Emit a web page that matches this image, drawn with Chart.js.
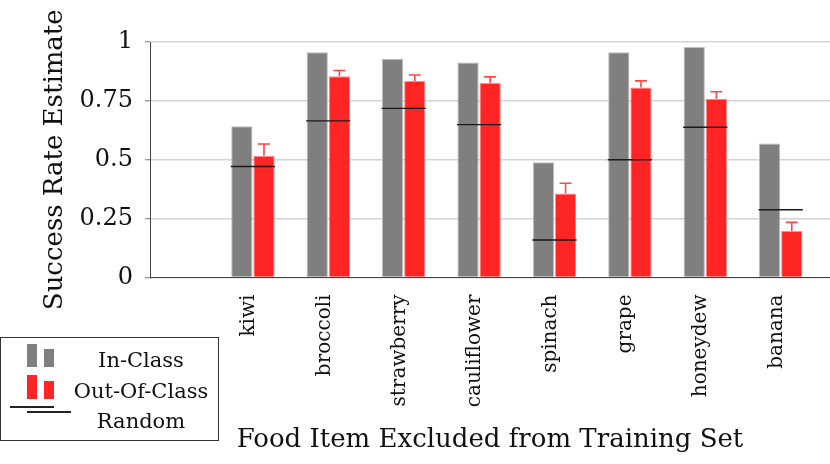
<!DOCTYPE html>
<html>
<head>
<meta charset="utf-8">
<script src="https://cdn.jsdelivr.net/npm/chart.js@4.4.0/dist/chart.umd.min.js"></script>
<style>
  html, body { margin: 0; padding: 0; background: #fff; }
  #wrap { position: relative; width: 830px; height: 464px; }
  #legend { position: absolute; left: 0; top: 337px; width: 217px; height: 102px; border: 1px solid #333; background: #fff;
            font-family: "DejaVu Serif"; font-size: 21px; color: #111; }
  #legend .ic { position: absolute; }
  #legend .tx { position: absolute; left: 60px; width: 160px; text-align: center; line-height: 24px; }
</style>
</head>
<body>
<div id="wrap">
  <canvas id="chart" width="830" height="464"></canvas>
  <div id="legend">
    <div class="ic" style="left:26px;top:6px;width:10px;height:23px;background:#7f7f7f"></div>
    <div class="ic" style="left:43px;top:11px;width:10px;height:18px;background:#7f7f7f"></div>
    <div class="tx" style="top:10px">In-Class</div>
    <div class="ic" style="left:26px;top:37px;width:10px;height:24px;background:#ff2525"></div>
    <div class="ic" style="left:43px;top:43px;width:10px;height:18px;background:#ff2525"></div>
    <div class="tx" style="top:41px">Out-Of-Class</div>
    <div class="ic" style="left:9px;top:68px;width:44px;height:1.5px;background:#222"></div>
    <div class="ic" style="left:26px;top:73px;width:44px;height:1.5px;background:#222"></div>
    <div class="tx" style="top:71px">Random</div>
  </div>
</div>
<script>
// values
const categories = ['kiwi', 'broccoli', 'strawberry', 'cauliflower', 'spinach', 'grape', 'honeydew', 'banana'];
const inClass = [0.642, 0.956, 0.929, 0.913, 0.489, 0.956, 0.979, 0.569];
const outOfClass = [0.517, 0.855, 0.834, 0.826, 0.357, 0.807, 0.759, 0.197];
const outOfClassErr = [0.050, 0.024, 0.026, 0.026, 0.043, 0.028, 0.030, 0.037];
const randomRate = [0.471, 0.665, 0.718, 0.649, 0.159, 0.500, 0.638, 0.288];
const yTicks = [0, 0.25, 0.5, 0.75, 1];
const yTickLabels = ['0', '0.25', '0.5', '0.75', '1'];

const serif = 'DejaVu Serif';
const pairPct = 0.5875;

// upper error whiskers on the red bars
const errorBars = {
    id: 'errorBars',
    afterDatasetsDraw(chart) {
        const meta = chart.getDatasetMeta(1), y = chart.scales.y, ctx = chart.ctx;
        ctx.save();
        ctx.strokeStyle = '#ff4646'; ctx.lineWidth = 1.6;
        meta.data.forEach((bar, i) => {
            const top = y.getPixelForValue(outOfClass[i] + outOfClassErr[i]);
            ctx.beginPath();
            ctx.moveTo(bar.x, bar.y); ctx.lineTo(bar.x, top);
            ctx.moveTo(bar.x - 6, top); ctx.lineTo(bar.x + 6, top);
            ctx.stroke();
        });
        ctx.restore();
    }
};

new Chart(document.getElementById('chart'), {
    type: 'bar',
    data: {
        datasets: [
            { label: 'In-Class', data: inClass.map((v, i) => ({ x: i + 1, y: v })),
              backgroundColor: '#7f7f7f', borderColor: '#bdbdbd', borderWidth: 1,
              categoryPercentage: pairPct, barPercentage: 0.96 },
            { label: 'Out-Of-Class', data: outOfClass.map((v, i) => ({ x: i + 1, y: v })),
              backgroundColor: '#ff2525', borderColor: '#ff8c8c', borderWidth: 1,
              categoryPercentage: pairPct, barPercentage: 0.96 },
            { label: 'Random', data: randomRate.map((v, i) => ({ x: i + 1, y: [v - 0.003, v + 0.003] })),
              backgroundColor: '#1a1a1a', borderWidth: 0, grouped: false, order: -1,
              categoryPercentage: pairPct, barPercentage: 1 }
        ]
    },
    options: {
        responsive: false,
        animation: false,
        layout: { padding: { top: 42, left: 0, right: 0, bottom: 0 } },
        plugins: { legend: { display: false }, tooltip: { enabled: false } },
        scales: {
            x: {
                type: 'linear', min: -0.365, max: 8.654, offset: false,
                afterBuildTicks: s => { s.ticks = categories.map((c, i) => ({ value: i + 1 })); },
                afterFit: s => { s.height = 186.5; },
                ticks: { autoSkip: false, maxRotation: 90, minRotation: 90, padding: 17, labelOffset: -4,
                         color: '#111', font: { family: serif, size: 20 }, callback: v => categories[v - 1] },
                grid: { display: false, drawTicks: false },
                border: { display: true, color: '#444', width: 1 },
                title: { display: true, text: 'Food Item Excluded from Training Set', color: '#111',
                         font: { family: serif, size: 26 }, padding: { top: 0, bottom: 8 } }
            },
            y: {
                min: 0, max: 1,
                afterBuildTicks: s => { s.ticks = yTicks.map(v => ({ value: v })); },
                afterFit: s => { s.width = 150; },
                ticks: { padding: 12, color: '#111', font: { family: serif, size: 24 },
                         callback: v => yTickLabels[yTicks.indexOf(v)] },
                grid: { color: '#d4d4d4', lineWidth: 1.5, tickLength: 5, tickColor: '#777', tickWidth: 1 },
                border: { color: '#444', width: 1 },
                title: { display: true, text: 'Success Rate Estimate', color: '#111',
                         font: { family: serif, size: 26 }, padding: { top: 40, bottom: 0 } }
            }
        }
    },
    plugins: [errorBars]
});
</script>
</body>
</html>
